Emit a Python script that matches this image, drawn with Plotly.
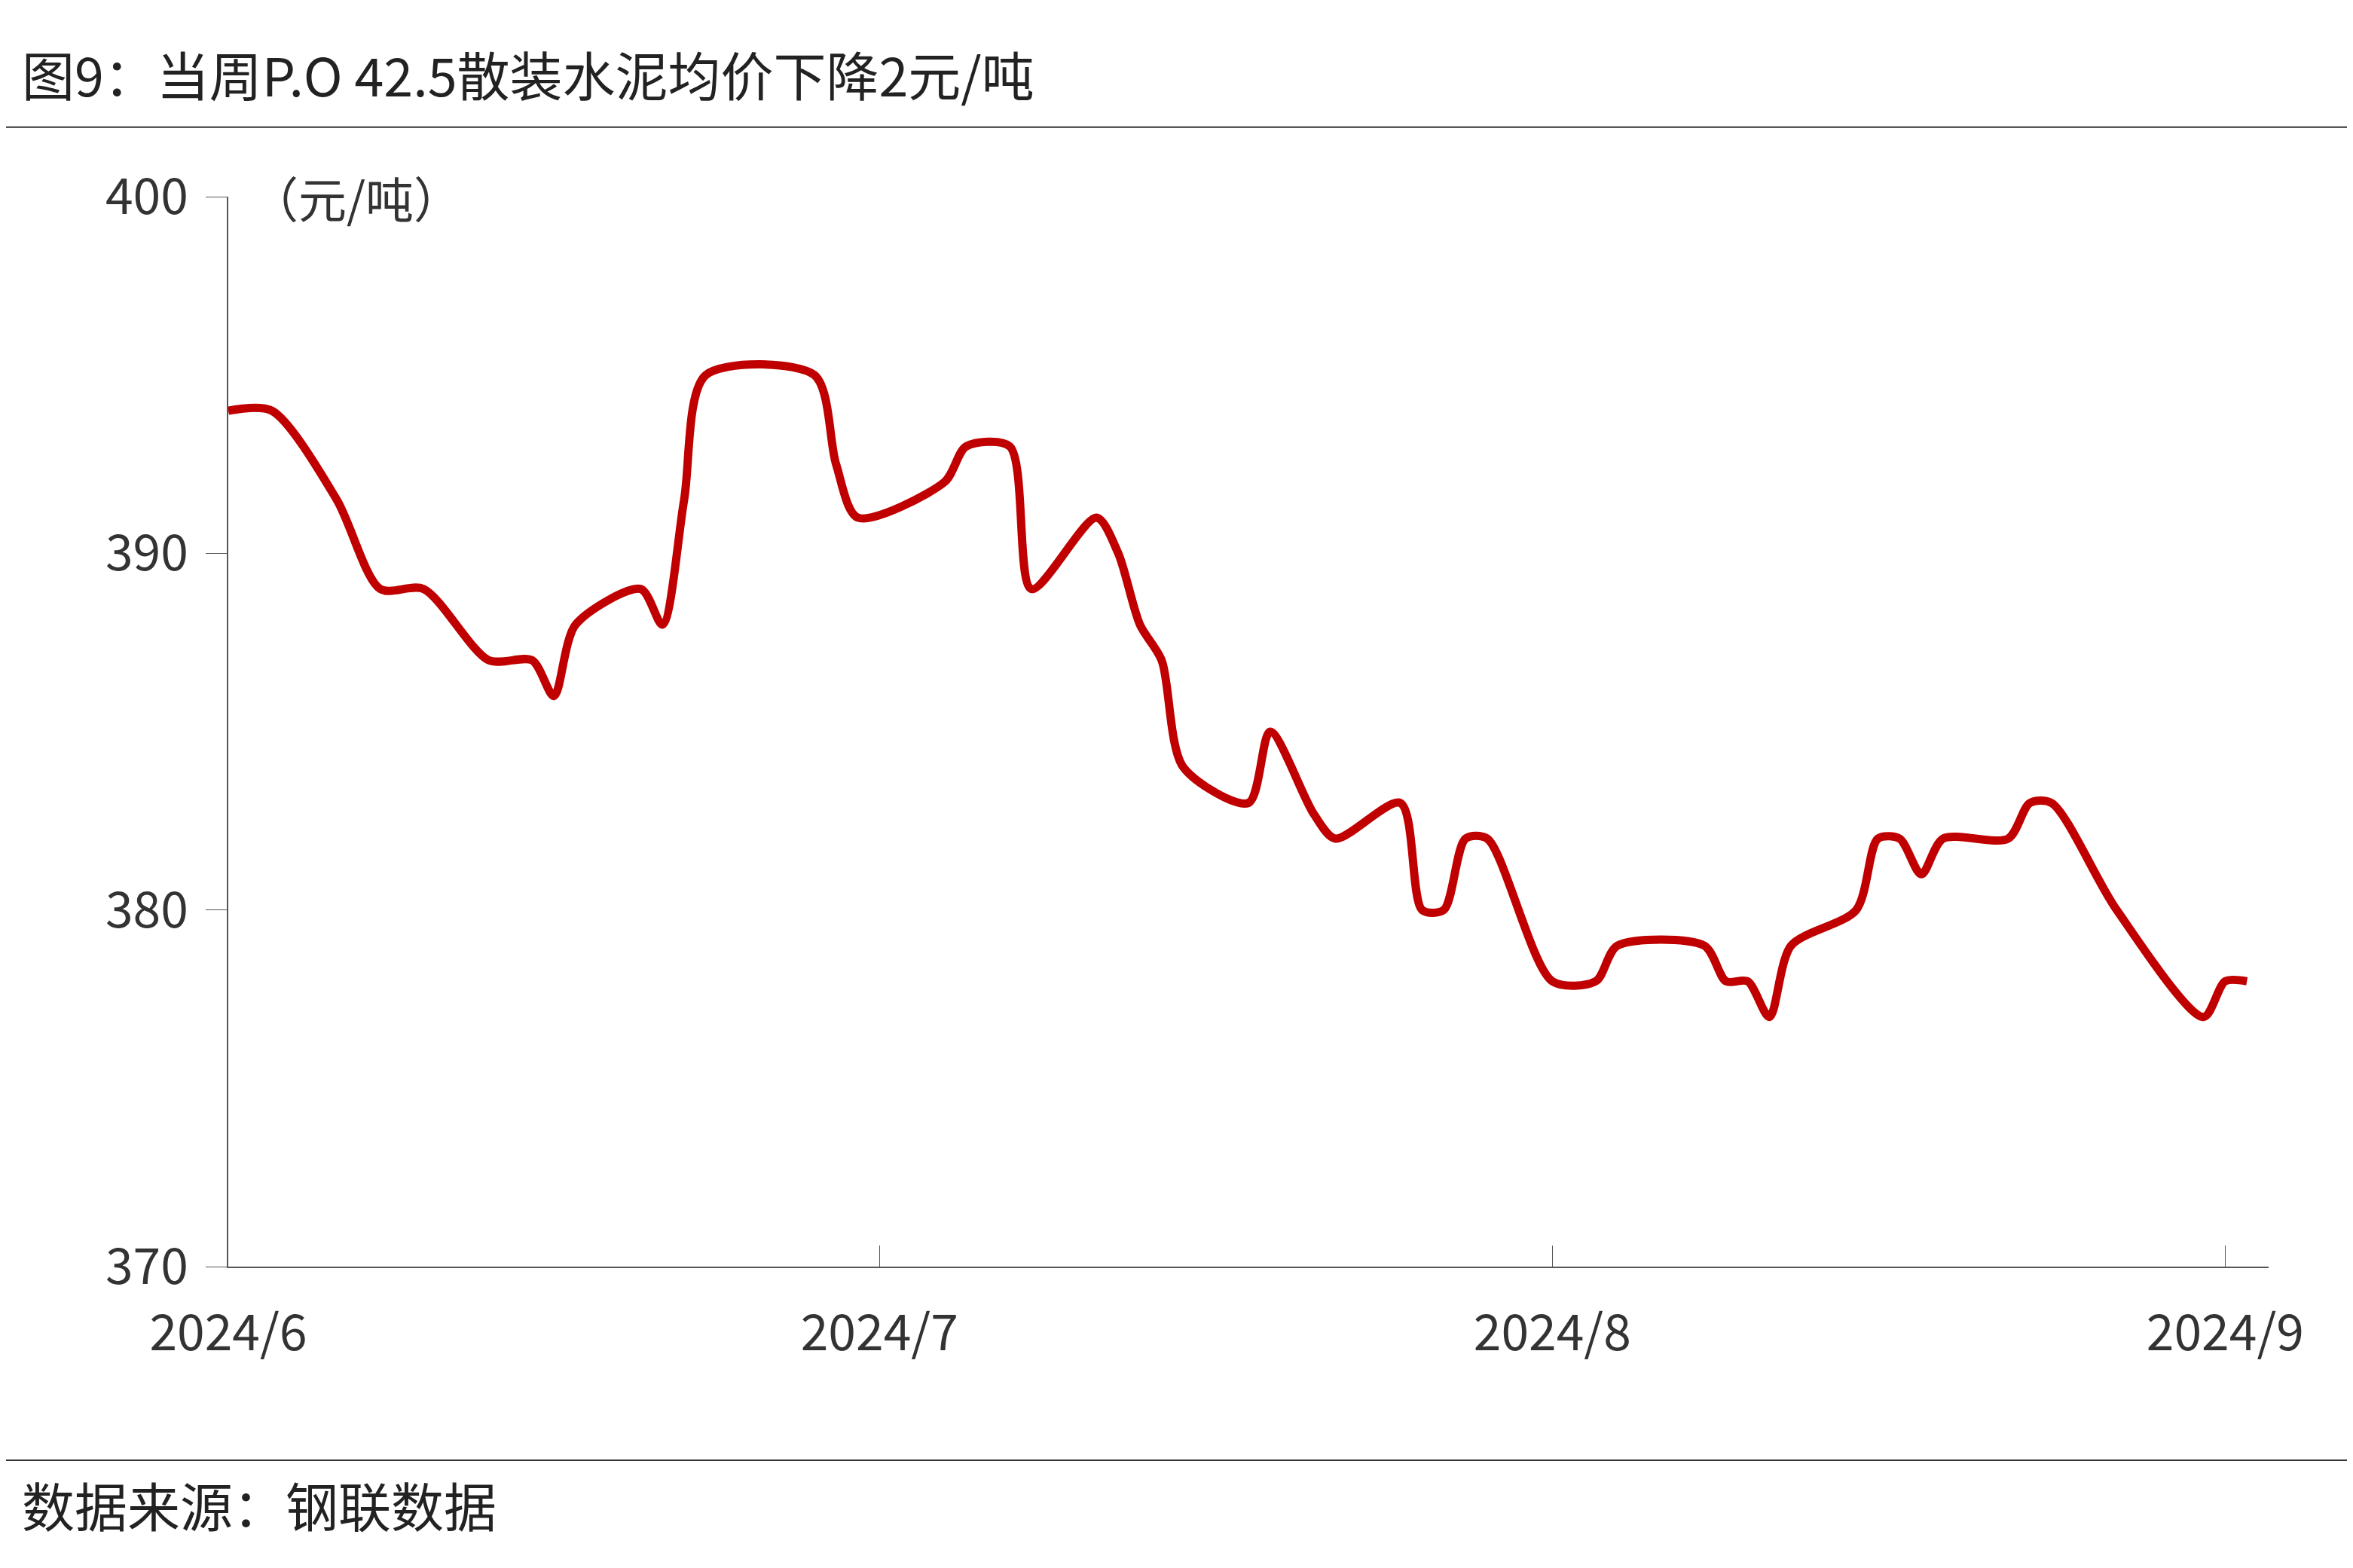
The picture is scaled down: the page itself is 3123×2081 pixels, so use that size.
import plotly.graph_objects as go

dates = ["2024-06-01","2024-06-03","2024-06-06","2024-06-08","2024-06-10","2024-06-13","2024-06-15",
         "2024-06-16","2024-06-17","2024-06-20","2024-06-21","2024-06-22","2024-06-23","2024-06-28",
         "2024-06-29","2024-06-30","2024-07-04","2024-07-05","2024-07-07","2024-07-08","2024-07-11",
         "2024-07-12","2024-07-13","2024-07-14","2024-07-15","2024-07-18","2024-07-19","2024-07-21",
         "2024-07-22","2024-07-25","2024-07-26","2024-07-27","2024-07-28","2024-07-29","2024-08-01",
         "2024-08-03","2024-08-04","2024-08-08","2024-08-09","2024-08-10","2024-08-11","2024-08-12",
         "2024-08-15","2024-08-16","2024-08-17","2024-08-18","2024-08-19","2024-08-22","2024-08-23",
         "2024-08-24","2024-08-27","2024-08-31","2024-09-01","2024-09-02"]
prices = [394,394,391.5,389,389,387,387,
          386,388,389,388,391.5,395,395,
          392.5,391,392,393,393,389,391,
          390,388,387,384,383,385,382.7,
          382,383,380,380,382,382,378,
          378,379,379,378,378,377,379,
          380,382,382,381,382,382,383,
          383,380,377,378,378]
y_ticks = [370,380,390,400]
x_ticks = ["2024-06-01","2024-07-01","2024-08-01","2024-09-01"]
x_labels = ["2024/6","2024/7","2024/8","2024/9"]

FONT = "Noto Sans CJK SC"
fig = go.Figure(go.Scatter(x=dates, y=prices, mode="lines",
                           line=dict(color="#C00000", width=11, shape="spline", smoothing=0.8)))

fig.update_layout(
    width=3123, height=2081, paper_bgcolor="white", plot_bgcolor="white",
    margin=dict(l=295, r=120, t=253, b=408),
    showlegend=False, font=dict(family=FONT, color="#333333", size=66),
    xaxis=dict(range=["2024-06-01","2024-09-03"], tickvals=x_ticks, ticktext=x_labels,
               ticks="inside", ticklen=28, tickcolor="#555", showgrid=False,
               showline=True, linecolor="#555", linewidth=2, tickfont=dict(size=66),
               ticklabelstandoff=30),
    yaxis=dict(range=[370,400], tickvals=y_ticks, ticks="outside", ticklen=28, tickcolor="#555",
               showgrid=False, showline=True, linecolor="#555", linewidth=2, zeroline=False,
               tickfont=dict(size=66), ticklabelstandoff=10),
    shapes=[dict(type="line", xref="paper", yref="paper", x0=-0.12, x1=1.05, y0=1.065, y1=1.065,
                 line=dict(color="#333", width=2)),
            dict(type="line", xref="paper", yref="paper", x0=-0.12, x1=1.05, y0=-0.181, y1=-0.181,
                 line=dict(color="#333", width=2))],
    annotations=[
        dict(text="图9：当周P.O 42.5散装水泥均价下降2元/吨", xref="paper", yref="paper",
             x=-0.102, y=1.115, xanchor="left", yanchor="middle", showarrow=False,
             font=dict(size=70, color="#222")),
        dict(text="（元/吨）", xref="paper", yref="paper", x=0.01, y=1.0, xanchor="left",
             yanchor="middle", showarrow=False, font=dict(size=64, color="#333")),
        dict(text="数据来源：钢联数据", xref="paper", yref="paper", x=-0.102, y=-0.222,
             xanchor="left", yanchor="middle", showarrow=False, font=dict(size=70, color="#222")),
    ])
fig.write_html("out.html")
